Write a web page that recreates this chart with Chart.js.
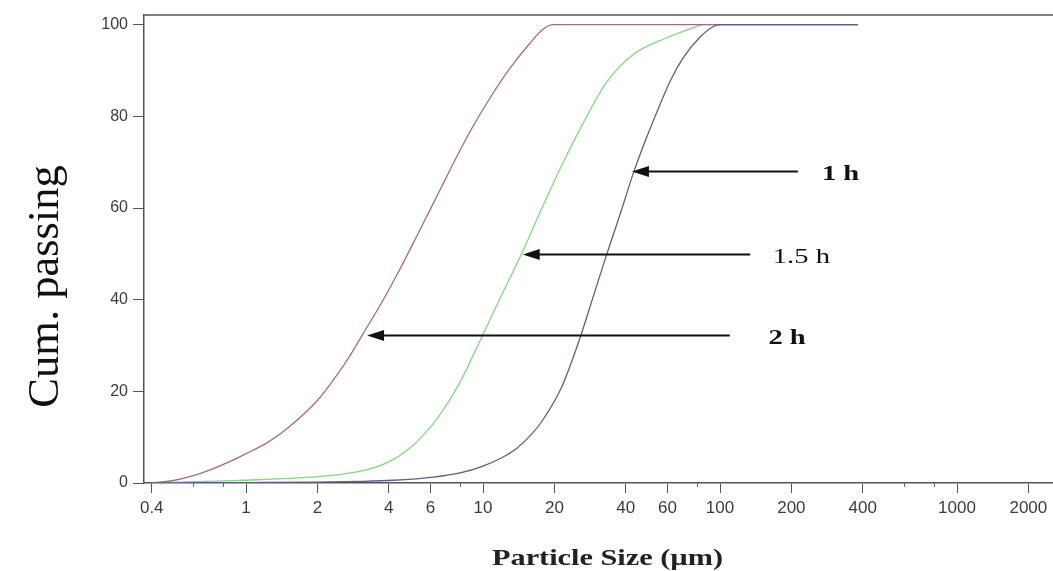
<!DOCTYPE html>
<html><head><meta charset="utf-8">
<script src="https://cdn.jsdelivr.net/npm/chart.js@4.4.1/dist/chart.umd.min.js"></script>
<style>html,body{margin:0;padding:0;background:#fff;} #wrap{width:1053px;height:571px;}</style>
</head><body><div id="wrap"><canvas id="c" width="1053" height="571"></canvas></div>
<script>
// ---- data (particle size in µm, cumulative passing in %) ----
const size2h = [0.4, 0.5, 0.6, 0.7, 0.88, 1, 1.23, 1.5, 2, 2.3, 2.7, 3.12, 3.7, 4.34, 5.27, 6.59, 7.8, 9, 10.7, 13, 15.8, 17.9, 19.8, 382];
const pass2h = [0, 0.6, 1.6, 2.8, 5.0, 6.4, 8.8, 12.0, 18.0, 22.0, 27.2, 32.6, 39, 45.5, 54, 64, 71.5, 77.5, 84, 90.5, 96, 99, 100, 100];

const size15h = [0.4, 0.6, 1, 1.5, 2, 2.6, 3.24, 4, 4.9, 5.5, 6.6, 8, 9.7, 12.1, 14.7, 17.9, 21.8, 27.4, 33.3, 43, 60, 77, 85, 382];
const pass15h = [0, 0.3, 0.6, 1.0, 1.4, 2.0, 2.9, 4.6, 7.6, 10, 15, 22, 31, 41.5, 50.5, 60.5, 70, 80, 87.5, 93.5, 97.2, 99.3, 100, 100];

const size1h = [0.4, 1, 2, 3, 4.17, 6.2, 8, 10, 12, 13.9, 16, 17.9, 21.5, 25.6, 29.1, 33.3, 37.8, 43, 47, 55.7, 62, 70, 82, 93, 100, 382];
const pass1h = [0, 0.1, 0.2, 0.35, 0.6, 1.3, 2.2, 3.7, 5.5, 7.6, 10.6, 13.8, 21, 31.5, 40.5, 50, 58.5, 67.5, 73, 82.5, 88, 92.8, 97.2, 99.5, 100, 100];

const xTickValues = [0.4, 0.6, 0.8, 1, 2, 4, 6, 8, 10, 20, 40, 60, 80, 100, 200, 400, 600, 800, 1000, 2000];
const xTickLabelled = [0.4, 1, 2, 4, 6, 10, 20, 40, 60, 100, 200, 400, 1000, 2000];
const yTickValues = [0, 20, 40, 60, 80, 100];

const annotationText = ['1 h', '1.5 h', '2 h'];
const annotationLevel = [68, 50, 32.2];
const annotationTipSize = [42.5, 14.7, 3.24];
const annotationTailSize = [213, 134, 110];
const annotationTextSize = [269, 167, 160];

const xTitle = 'Particle Size (µm)';
const yTitle = 'Cum. passing';

function pts(xs, ys) { return xs.map((x, i) => ({x: x, y: ys[i]})); }

const extras = {
  id: 'extras',
  afterDraw(chart) {
    const ctx = chart.ctx;
    const ca = chart.chartArea;
    const xs = chart.scales.x, ys = chart.scales.y;
    ctx.save();
    // top frame line
    ctx.strokeStyle = '#555';
    ctx.lineWidth = 1.5;
    ctx.beginPath();
    ctx.moveTo(ca.left, ca.top + 0.5);
    ctx.lineTo(ca.right, ca.top + 0.5);
    ctx.stroke();
    // minor ticks
    ctx.lineWidth = 1;
    ctx.strokeStyle = '#666';
    xTickValues.forEach(v => {
      if (xTickLabelled.includes(v)) return;
      const px = Math.round(xs.getPixelForValue(v)) + 0.5;
      ctx.beginPath();
      ctx.moveTo(px, ca.bottom);
      ctx.lineTo(px, ca.bottom + 4);
      ctx.stroke();
    });
    // arrows and labels
    ctx.fillStyle = '#111';
    ctx.strokeStyle = '#111';
    annotationText.forEach((t, i) => {
      const tip = xs.getPixelForValue(annotationTipSize[i]);
      const tail = xs.getPixelForValue(annotationTailSize[i]);
      const y = Math.round(ys.getPixelForValue(annotationLevel[i])) + 0.5;
      ctx.lineWidth = 2;
      ctx.beginPath();
      ctx.moveTo(tail, y);
      ctx.lineTo(tip + 14, y);
      ctx.stroke();
      ctx.beginPath();
      ctx.moveTo(tip, y);
      ctx.lineTo(tip + 17, y - 5.5);
      ctx.lineTo(tip + 17, y + 5.5);
      ctx.closePath();
      ctx.fill();
      const tx = xs.getPixelForValue(annotationTextSize[i]);
      ctx.save();
      ctx.font = (i === 1 ? '' : 'bold ') + '22px "Liberation Serif", "Times New Roman", serif';
      ctx.textBaseline = 'alphabetic';
      ctx.textAlign = 'left';
      ctx.translate(tx, y + 8);
      ctx.scale(1.3, 1);
      ctx.fillText(t, 0, 0);
      ctx.restore();
    });
    // x title
    ctx.save();
    ctx.fillStyle = '#222';
    ctx.font = 'bold 22.5px "Liberation Serif", "Times New Roman", serif';
    ctx.textBaseline = 'alphabetic';
    ctx.textAlign = 'left';
    const w = ctx.measureText(xTitle).width;
    ctx.translate(492, 565);
    ctx.scale(231 / w, 1);
    ctx.fillText(xTitle, 0, 0);
    ctx.restore();
    // y title
    ctx.save();
    ctx.fillStyle = '#111';
    ctx.font = '44.5px "Liberation Serif", "Times New Roman", serif';
    ctx.textAlign = 'center';
    ctx.textBaseline = 'alphabetic';
    ctx.translate(58, 286.5);
    ctx.rotate(-Math.PI / 2);
    ctx.fillText(yTitle, 0, 0);
    ctx.restore();
    ctx.restore();
  }
};

new Chart(document.getElementById('c'), {
  type: 'line',
  data: {
    datasets: [
      {label: '1 h', data: pts(size1h, pass1h), borderColor: '#5e5e86', borderWidth: 1.3},
      {label: '2 h', data: pts(size2h, pass2h), borderColor: '#a56a86', borderWidth: 1.3},
      {label: '1.5 h', data: pts(size15h, pass15h), borderColor: '#86d486', borderWidth: 1.3}
    ]
  },
  options: {
    responsive: false,
    animation: false,
    elements: {point: {radius: 0}, line: {cubicInterpolationMode: 'monotone'}},
    layout: {padding: {top: 13, right: 0, left: 0, bottom: 0}},
    plugins: {legend: {display: false}, tooltip: {enabled: false}},
    scales: {
      x: {
        type: 'logarithmic',
        min: 0.371, max: 2541,
        afterBuildTicks(scale) { scale.ticks = xTickValues.map(v => ({value: v})); },
        afterFit(scale) { scale.height = 88; },
        grid: {drawOnChartArea: false, drawTicks: true, tickLength: 10,
               tickColor: c => (c.tick && xTickLabelled.includes(c.tick.value)) ? '#555' : 'rgba(0,0,0,0)'},
        border: {display: true, color: '#555', width: 1.5},
        ticks: {
          autoSkip: false, maxRotation: 0, minRotation: 0, padding: 5,
          color: '#3c3c3c',
          font: {family: '"Liberation Sans", Arial, sans-serif', size: 17},
          callback: v => xTickLabelled.includes(v) ? String(v) : ''
        }
      },
      y: {
        type: 'linear',
        min: 0, max: 102.2,
        afterBuildTicks(scale) { scale.ticks = yTickValues.map(v => ({value: v})); },
        afterFit(scale) { scale.width = 144; },
        grid: {drawOnChartArea: false, drawTicks: true, tickLength: 11, tickColor: '#555'},
        border: {display: true, color: '#555', width: 1.5},
        ticks: {
          padding: 5, color: '#3c3c3c',
          font: {family: '"Liberation Sans", Arial, sans-serif', size: 16}
        }
      }
    }
  },
  plugins: [extras]
});
</script>
</body></html>
